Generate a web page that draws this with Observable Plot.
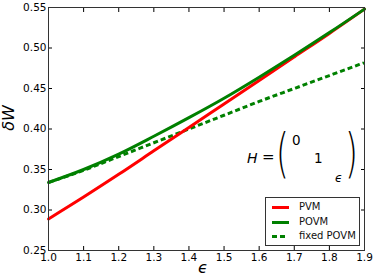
<!DOCTYPE html>
<html>
<head>
<meta charset="utf-8">
<script src="https://cdn.jsdelivr.net/npm/d3@7"></script>
<script src="https://cdn.jsdelivr.net/npm/@observablehq/plot@0.6"></script>
<style>
  html, body { margin: 0; padding: 0; background: #fff; }
  #wrap { position: relative; width: 374px; height: 280px; font-family: "DejaVu Sans", sans-serif; }
  #wrap svg { position: absolute; left: 0; top: 0; }
  .ov { position: absolute; white-space: nowrap; line-height: 1; color: #000; }
  #legend { position: absolute; left: 265px; top: 197px; width: 93px; height: 47px; border: 1px solid #333; background: #fff; font-size: 10px; }
  .row { position: absolute; left: 0; height: 14px; width: 93px; }
  .sw { position: absolute; left: 6px; top: 6px; width: 17px; height: 3px; }
  .lbl { position: absolute; left: 33px; top: 1px; color: #111; white-space: nowrap; }
  .paren { position: absolute; font-size: 33px; font-weight: 200; transform: scaleY(1.6); transform-origin: 50% 50%; }
</style>
</head>
<body>
<div id="wrap"></div>
<script>
const eps = [1.0, 1.1, 1.2, 1.3, 1.4, 1.5, 1.6, 1.7, 1.8, 1.9];
const pvm = [0.289, 0.316, 0.344, 0.373, 0.402, 0.431, 0.460, 0.489, 0.518, 0.548];
const povm = [0.334, 0.350, 0.369, 0.391, 0.414, 0.438, 0.464, 0.491, 0.519, 0.548];
const fixedPovm = [0.334, 0.349, 0.366, 0.383, 0.400, 0.417, 0.434, 0.450, 0.466, 0.482];
const xTicks = [1.0, 1.1, 1.2, 1.3, 1.4, 1.5, 1.6, 1.7, 1.8, 1.9];
const yTicks = [0.25, 0.30, 0.35, 0.40, 0.45, 0.50, 0.55];
const seriesNames = ["PVM", "POVM", "fixed POVM"];
const seriesColors = ["#ff0000", "#008000", "#008000"];

const rows = (vals, name) => eps.map((e, i) => ({eps: e, dW: vals[i], series: name}));
const pvmData = rows(pvm, seriesNames[0]);
const povmData = rows(povm, seriesNames[1]);
const fixedData = rows(fixedPovm, seriesNames[2]);

const fmt = d3.format(".2f");
const fmtx = d3.format(".1f");

const chart = Plot.plot({
  width: 374,
  height: 280,
  marginLeft: 48,
  marginRight: 10,
  marginTop: 7,
  marginBottom: 30,
  style: {fontFamily: "DejaVu Sans", fontSize: "10.5px", color: "#000", background: "transparent"},
  x: {domain: [1.0, 1.9]},
  y: {domain: [0.25, 0.55]},
  marks: [
    Plot.line(fixedData, {x: "eps", y: "dW", stroke: seriesColors[2], strokeWidth: 3, strokeDasharray: "5,3", strokeLinecap: "butt", curve: "monotone-x"}),
    Plot.line(pvmData, {x: "eps", y: "dW", stroke: seriesColors[0], strokeWidth: 3, curve: "monotone-x"}),
    Plot.line(povmData, {x: "eps", y: "dW", stroke: seriesColors[1], strokeWidth: 3, curve: "monotone-x"}),
    Plot.axisX(xTicks, {anchor: "bottom", tickSize: -4, tickPadding: 7, tickFormat: fmtx, label: null, fontSize: 10.5}),
    Plot.axisX(xTicks, {anchor: "top", tickSize: -4, tickFormat: () => "", label: null}),
    Plot.axisY(yTicks, {anchor: "left", tickSize: -4, tickPadding: 6, tickFormat: fmt, label: null, fontSize: 10.5}),
    Plot.axisY(yTicks, {anchor: "right", tickSize: -4, tickFormat: () => "", label: null}),
    Plot.frame({stroke: "#333", strokeWidth: 1})
  ]
});

const wrap = document.getElementById("wrap");
wrap.appendChild(chart);

function ov(html, left, top, style) {
  const d = document.createElement("div");
  d.className = "ov";
  d.innerHTML = html;
  d.style.left = left + "px";
  d.style.top = top + "px";
  if (style) Object.assign(d.style, style);
  wrap.appendChild(d);
  return d;
}

// axis labels
ov("ϵ", 198, 260, {fontSize: "16px", fontStyle: "italic"});
ov("δW", -4, 110, {fontSize: "16px", fontStyle: "italic", transform: "rotate(-90deg)", transformOrigin: "50% 50%"});

// equation annotation
ov("H", 247, 151, {fontSize: "14px", fontStyle: "italic"});
ov("=", 262, 150, {fontSize: "15px"});
const pl = ov("(", 276, 137); pl.classList.add("paren");
const pr = ov(")", 345, 137); pr.classList.add("paren");
ov("0", 292, 134, {fontSize: "13.5px"});
ov("1", 314, 152, {fontSize: "13.5px"});
ov("ϵ", 335, 172, {fontSize: "12px", fontStyle: "italic"});

// legend
const lg = document.createElement("div");
lg.id = "legend";
seriesNames.forEach((name, i) => {
  const r = document.createElement("div");
  r.className = "row";
  r.style.top = (2 + i * 14.7) + "px";
  const sw = document.createElement("div");
  sw.className = "sw";
  if (i === 2) {
    sw.style.width = "13px";
    sw.style.background = `repeating-linear-gradient(to right, ${seriesColors[i]} 0 5px, transparent 5px 8px)`;
  } else {
    sw.style.background = seriesColors[i];
  }
  const t = document.createElement("div");
  t.className = "lbl";
  t.textContent = name;
  r.appendChild(sw); r.appendChild(t);
  lg.appendChild(r);
});
wrap.appendChild(lg);
</script>
</body>
</html>
